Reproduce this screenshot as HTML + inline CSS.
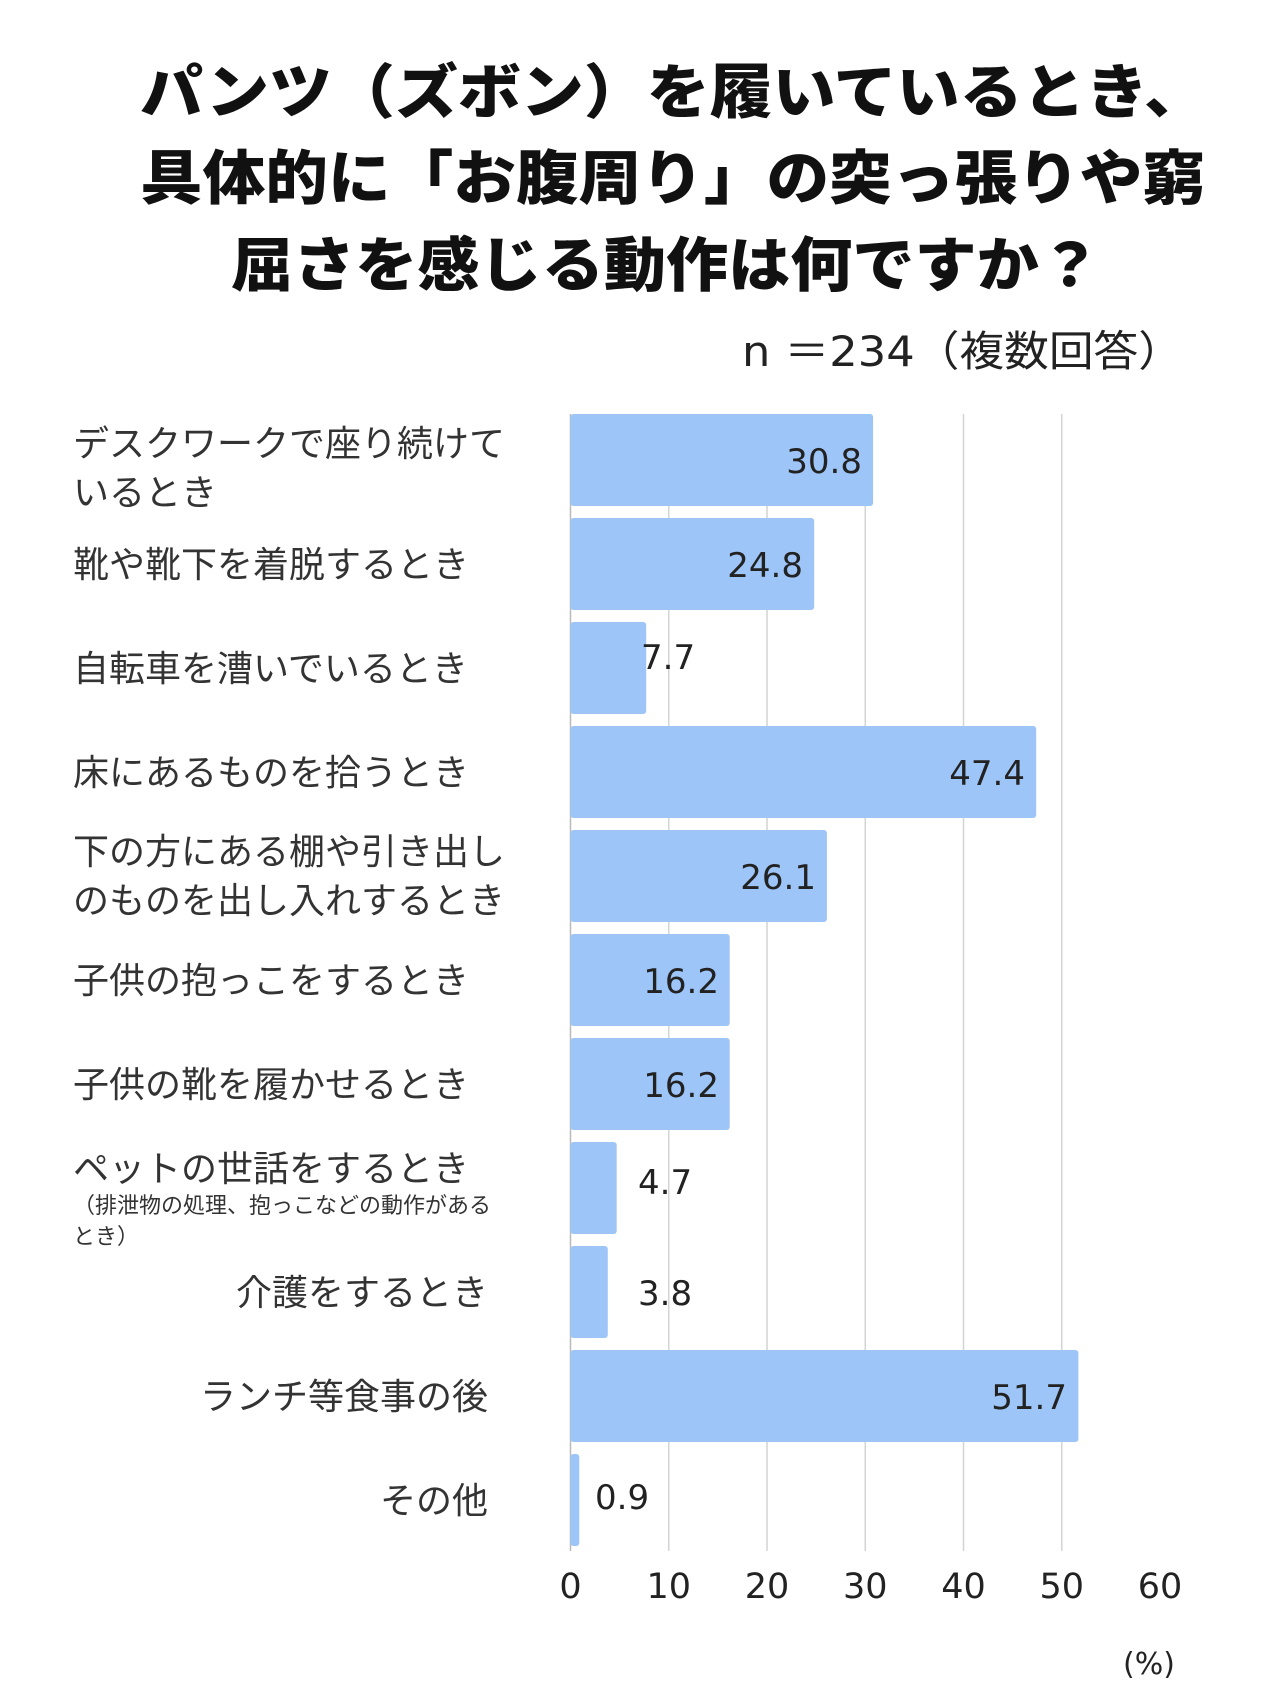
<!DOCTYPE html>
<html><head><meta charset="utf-8"><style>
html,body{margin:0;padding:0;background:#fff}
svg{display:block}
text{font-family:"Liberation Sans","Noto Sans CJK JP",sans-serif;fill:#222}
.t{font-family:"Noto Sans CJK JP",sans-serif;font-weight:900;font-size:59px;fill:#111}
.l{font-family:"Noto Sans CJK JP",sans-serif;font-size:36px;fill:#333}
.v{font-family:"DejaVu Sans","Liberation Sans",sans-serif;font-size:34px;fill:#222}
</style></head><body>
<svg width="1280" height="1705" viewBox="0 0 1280 1705" xmlns="http://www.w3.org/2000/svg">
<text class="t" x="140" y="113" textLength="1067" lengthAdjust="spacingAndGlyphs">パンツ（ズボン）を履いているとき、</text>
<text class="t" x="140" y="199" textLength="1065" lengthAdjust="spacingAndGlyphs">具体的に「お腹周り」の突っ張りや窮</text>
<text class="t" x="231" y="286" textLength="870" lengthAdjust="spacingAndGlyphs">屈さを感じる動作は何ですか？</text>
<text x="1183" y="366" text-anchor="end" textLength="441" lengthAdjust="spacingAndGlyphs" style="font-family:'DejaVu Sans','Noto Sans CJK JP',sans-serif;font-size:42px;fill:#222">n ＝234（複数回答）</text>
<g transform="translate(0,3)">
<g stroke="#d4d4d4" stroke-width="1.5">
<line x1="668.75" y1="411" x2="668.75" y2="1548"/><line x1="767" y1="411" x2="767" y2="1548"/>
<line x1="865.25" y1="411" x2="865.25" y2="1548"/><line x1="963.5" y1="411" x2="963.5" y2="1548"/>
<line x1="1061.75" y1="411" x2="1061.75" y2="1548"/>
<line x1="570.5" y1="411" x2="570.5" y2="1548" stroke="#bbb"/>
</g>
<g fill="#9ec5f8">
<rect x="570.5" y="411" width="302.6" height="92" rx="3"/>
<rect x="570.5" y="515" width="243.7" height="92" rx="3"/>
<rect x="570.5" y="619" width="75.7" height="92" rx="3"/>
<rect x="570.5" y="723" width="465.7" height="92" rx="3"/>
<rect x="570.5" y="827" width="256.4" height="92" rx="3"/>
<rect x="570.5" y="931" width="159.2" height="92" rx="3"/>
<rect x="570.5" y="1035" width="159.2" height="92" rx="3"/>
<rect x="570.5" y="1139" width="46.2" height="92" rx="3"/>
<rect x="570.5" y="1243" width="37.3" height="92" rx="3"/>
<rect x="570.5" y="1347" width="507.9" height="92" rx="3"/>
<rect x="570.5" y="1451" width="8.8" height="92" rx="3"/>
</g>
<g>
<text class="v" x="862" y="470" text-anchor="end">30.8</text>
<text class="v" x="803" y="574" text-anchor="end">24.8</text>
<text class="v" x="641" y="666">7.7</text>
<text class="v" x="1025" y="782" text-anchor="end">47.4</text>
<text class="v" x="816" y="886" text-anchor="end">26.1</text>
<text class="v" x="719" y="990" text-anchor="end">16.2</text>
<text class="v" x="719" y="1094" text-anchor="end">16.2</text>
<text class="v" x="638" y="1191">4.7</text>
<text class="v" x="638" y="1302">3.8</text>
<text class="v" x="1067" y="1406" text-anchor="end">51.7</text>
<text class="v" x="595" y="1506">0.9</text>
</g>
<g>
<text class="l" x="73" y="453">デスクワークで座り続けて</text>
<text class="l" x="73" y="502">いるとき</text>
<text class="l" x="73" y="574">靴や靴下を着脱するとき</text>
<text class="l" x="73" y="678">自転車を漕いでいるとき</text>
<text class="l" x="73" y="782">床にあるものを拾うとき</text>
<text class="l" x="73" y="861">下の方にある棚や引き出し</text>
<text class="l" x="73" y="910">のものを出し入れするとき</text>
<text class="l" x="73" y="990">子供の抱っこをするとき</text>
<text class="l" x="73" y="1094">子供の靴を履かせるとき</text>
<text class="l" x="73" y="1178">ペットの世話をするとき</text>
<text class="l" x="73" y="1210" style="font-size:22px">（排泄物の処理、抱っこなどの動作がある</text>
<text class="l" x="73" y="1241" style="font-size:22px">とき）</text>
<text class="l" x="488" y="1302" text-anchor="end">介護をするとき</text>
<text class="l" x="488" y="1406" text-anchor="end">ランチ等食事の後</text>
<text class="l" x="488" y="1510" text-anchor="end">その他</text>
</g>
</g>
<g>
<text class="v" x="570.5" y="1598" text-anchor="middle" style="font-size:35px">0</text>
<text class="v" x="668.75" y="1598" text-anchor="middle" style="font-size:35px">10</text>
<text class="v" x="767" y="1598" text-anchor="middle" style="font-size:35px">20</text>
<text class="v" x="865.25" y="1598" text-anchor="middle" style="font-size:35px">30</text>
<text class="v" x="963.5" y="1598" text-anchor="middle" style="font-size:35px">40</text>
<text class="v" x="1061.75" y="1598" text-anchor="middle" style="font-size:35px">50</text>
<text class="v" x="1160" y="1598" text-anchor="middle" style="font-size:35px">60</text>
</g>
<text x="1149" y="1674" text-anchor="middle" style="font-family:'DejaVu Sans',sans-serif;font-size:30px;fill:#222">(%)</text>
</svg>
</body></html>
